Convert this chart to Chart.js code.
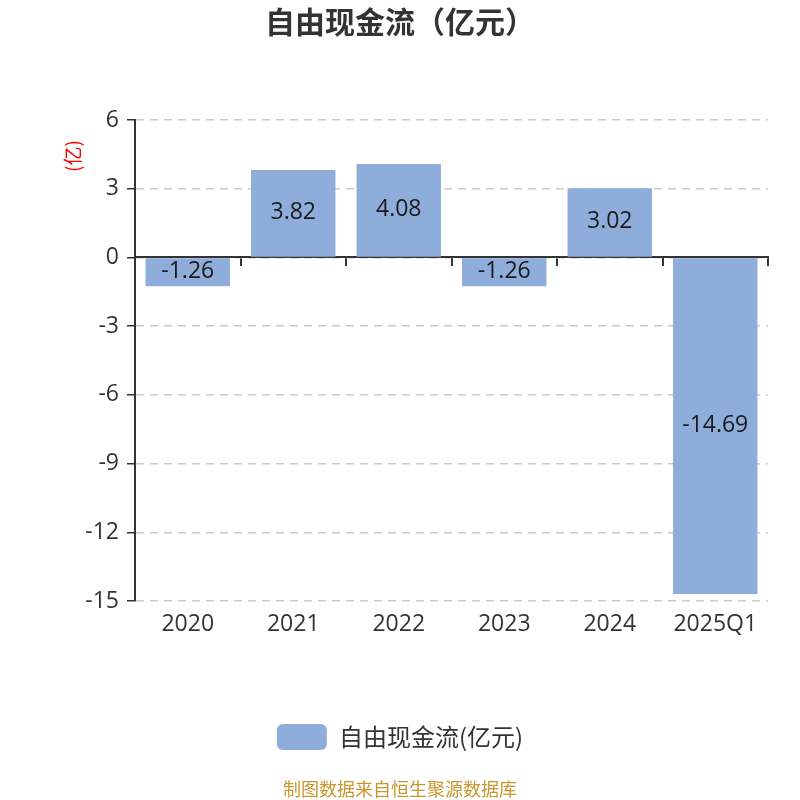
<!DOCTYPE html>
<html>
<head>
<meta charset="utf-8">
<script src="https://cdn.jsdelivr.net/npm/chart.js@4/dist/chart.umd.min.js"></script>
<style>
    html, body { margin: 0; padding: 0; background: #fff; }
    #wrap { position: relative; width: 800px; height: 800px; }
</style>
</head>
<body>
<div id="wrap"><canvas id="chart" width="800" height="800"></canvas></div>
<script>
const years = ['2020', '2021', '2022', '2023', '2024', '2025Q1'];
const freeCashFlow = [-1.26, 3.82, 4.08, -1.26, 3.02, -14.69];
const yTicks = [6, 3, 0, -3, -6, -9, -12, -15];

const FONT = '"Open Sans", "Noto Sans CJK SC", sans-serif';
const CJK = '"Noto Sans CJK SC", sans-serif';

// value text in the middle of each bar
const barValues = {
    id: 'barValues',
    afterDatasetsDraw(chart) {
        const ctx = chart.ctx;
        const meta = chart.getDatasetMeta(0);
        ctx.save();
        ctx.font = '23px ' + FONT;
        ctx.fillStyle = '#1a1a1a';
        ctx.textAlign = 'center';
        ctx.textBaseline = 'middle';
        meta.data.forEach((bar, i) => {
            const mid = (bar.y + bar.base) / 2;
            ctx.fillText(freeCashFlow[i].toFixed(2), bar.x, mid - 1);
        });
        ctx.restore();
    }
};

// unit label and footer note
const extraText = {
    id: 'extraText',
    afterDraw(chart) {
        const ctx = chart.ctx;
        ctx.save();
        ctx.translate(73, 156);
        ctx.rotate(-Math.PI / 2);
        ctx.font = '19px ' + CJK;
        ctx.fillStyle = '#ff0000';
        ctx.textAlign = 'center';
        ctx.textBaseline = 'middle';
        ctx.fillText('(亿)', 0, 0);
        ctx.restore();

        ctx.save();
        ctx.font = '18px ' + CJK;
        ctx.fillStyle = '#c8962d';
        ctx.textAlign = 'center';
        ctx.textBaseline = 'middle';
        ctx.fillText('制图数据来自恒生聚源数据库', 400, 789);
        ctx.restore();
    }
};

new Chart(document.getElementById('chart').getContext('2d'), {
    type: 'bar',
    data: {
        labels: years,
        datasets: [{
            label: '自由现金流(亿元)',
            data: freeCashFlow,
            backgroundColor: '#8eaddb',
            borderWidth: 0,
            barPercentage: 0.8,
            categoryPercentage: 1
        }]
    },
    options: {
        responsive: false,
        animation: false,
        devicePixelRatio: 1,
        layout: { padding: { left: 32, right: 32, top: 0, bottom: 40 } },
        plugins: {
            title: {
                display: true,
                text: '自由现金流（亿元）',
                color: '#333',
                font: { family: CJK, size: 30, weight: 'bold' },
                padding: { top: 4, bottom: 80 }
            },
            legend: {
                position: 'bottom',
                labels: {
                    color: '#333',
                    font: { family: CJK, size: 24 },
                    boxWidth: 50,
                    boxHeight: 26,
                    useBorderRadius: true,
                    borderRadius: 6,
                    padding: 10
                }
            },
            tooltip: { enabled: false }
        },
        scales: {
            x: {
                position: 'bottom',
                offset: true,
                grid: { display: false },
                border: { display: false },
                ticks: {
                    color: '#333',
                    font: { family: FONT, size: 23 },
                    padding: 2,
                    maxRotation: 0
                },
                afterFit(scale) { scale.height = 113; }
            },
            x2: {
                type: 'category',
                labels: years,
                position: { y: 0 },
                offset: true,
                grid: {
                    display: true,
                    drawOnChartArea: false,
                    drawTicks: true,
                    tickLength: 8,
                    color: '#333',
                    lineWidth: 2
                },
                border: { display: true, color: '#333', width: 2 },
                ticks: { display: false }
            },
            y: {
                min: -15,
                max: 6,
                afterBuildTicks(scale) {
                    scale.ticks = yTicks.map(v => ({ value: v }));
                },
                afterFit(scale) { scale.width = 103; },
                grid: {
                    color: '#cccccc',
                    lineWidth: 1.5,
                    tickLength: 8,
                    tickColor: '#333',
                    drawTicks: true
                },
                border: { display: true, color: '#333', width: 2, dash: [8, 6] },
                ticks: {
                    color: '#333',
                    font: { family: FONT, size: 23 },
                    padding: 8
                }
            }
        }
    },
    plugins: [barValues, extraText]
});
</script>
</body>
</html>
